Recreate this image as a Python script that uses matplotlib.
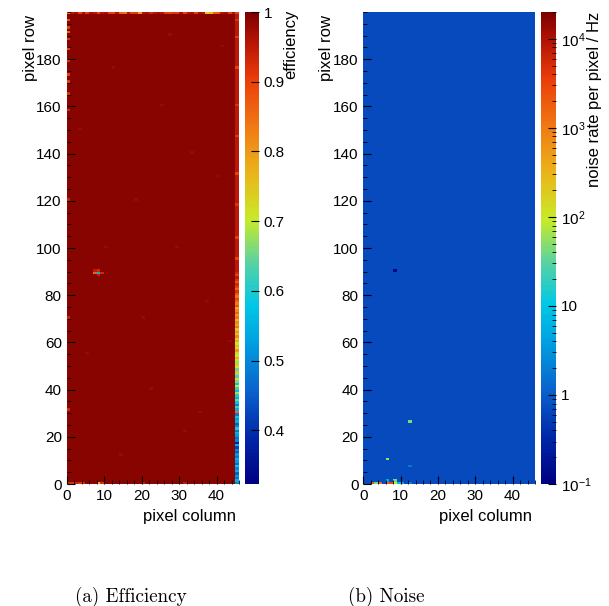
import matplotlib
matplotlib.use("Agg")
import matplotlib.pyplot as plt
import numpy as np
from matplotlib.colors import LinearSegmentedColormap, Normalize, LogNorm
from matplotlib.ticker import FixedLocator, FuncFormatter, LogLocator, MultipleLocator

plt.rcParams["font.family"] = ["Liberation Sans", "DejaVu Sans"]
plt.rcParams["mathtext.fontset"] = "custom"
plt.rcParams["mathtext.rm"] = "Liberation Sans"
plt.rcParams["mathtext.default"] = "regular"

N_COLS, N_ROWS = 46, 200

# --- efficiency map -----------------------------------------------------------
EFF_BASE = 0.99
EFF_EDGE_UPPER = 0.95          # last column above row 90
# last column, rows 0..89 (low-efficiency stripe)
eff_last_col = [
    0.50, 0.55, 0.48, 0.52, 0.45, 0.55, 0.50, 0.58, 0.47, 0.52,
    0.55, 0.48, 0.52, 0.45, 0.50, 0.42, 0.55, 0.38, 0.50, 0.47,
    0.52, 0.55, 0.48, 0.60, 0.50, 0.45, 0.55, 0.52, 0.58, 0.48,
    0.85, 0.55, 0.62, 0.50, 0.58, 0.65, 0.55, 0.60, 0.68, 0.57,
    0.62, 0.70, 0.58, 0.66, 0.72, 0.63, 0.68, 0.75, 0.65, 0.70,
    0.74, 0.68, 0.72, 0.78, 0.70, 0.73, 0.80, 0.72, 0.76, 0.70,
    0.78, 0.74, 0.82, 0.76, 0.80, 0.75, 0.84, 0.79, 0.82, 0.77,
    0.84, 0.80, 0.86, 0.82, 0.78, 0.88, 0.83, 0.86, 0.90, 0.84,
    0.88, 0.92, 0.86, 0.90, 0.93, 0.88, 0.92, 0.95, 0.90, 0.93,
]
eff_last_col_upper = {95: 0.90, 104: 0.91, 118: 0.92, 131: 0.90, 147: 0.91,
                      160: 0.92, 176: 0.90, 189: 0.91, 196: 0.92}
# top row (row 199), columns 0..45
eff_top_row = [
    0.85, 0.95, 0.97, 0.90, 0.97, 0.91, 0.97, 0.96, 0.90, 0.96,
    0.97, 0.91, 0.90, 0.96, 0.86, 0.85, 0.96, 0.90, 0.91, 0.80,
    0.96, 0.97, 0.93, 0.96, 0.97, 0.96, 0.91, 0.90, 0.92, 0.91,
    0.97, 0.90, 0.96, 0.97, 0.91, 0.97, 0.96, 0.74, 0.76, 0.86,
    0.87, 0.96, 0.97, 0.91, 0.96, 0.90,
]
eff_first_col = {196: 0.88, 193: 0.90, 191: 0.86, 188: 0.92, 184: 0.90,
                 179: 0.92, 173: 0.90, 170: 0.91, 165: 0.92, 158: 0.93,
                 120: 0.94, 70: 0.94, 31: 0.93}
eff_bottom_row = {0: 0.93, 1: 0.92, 2: 0.94, 3: 0.92, 4: 0.93, 8: 0.78,
                  9: 0.92, 20: 0.95, 31: 0.95}
eff_spots = {(7, 89): 0.86, (8, 89): 0.55, (8, 90): 0.93, (8, 88): 0.94,
             (9, 89): 0.93, (7, 90): 0.95}
eff_texture = [(3, 150), (12, 176), (25, 160), (33, 140), (41, 185), (18, 120),
               (29, 100), (37, 77), (5, 55), (22, 40), (31, 22), (14, 12),
               (40, 130), (10, 100), (27, 190), (43, 60), (20, 70), (35, 30)]
EFF_TEXTURE_VALUE = 0.978

# --- noise map ----------------------------------------------------------------
NOISE_BASE = 0.7
noise_spots = {(12, 26): 45, (6, 10): 60, (12, 7): 1.7, (8, 90): 0.12,
               (2, 0): 2500, (3, 0): 40, (4, 0): 1500, (6, 0): 2000,
               (7, 0): 3000, (8, 0): 80, (9, 0): 8, (10, 0): 5, (12, 0): 2,
               (6, 1): 5, (8, 1): 40}

eff = np.full((N_ROWS, N_COLS), EFF_BASE)
for c, r in eff_texture:
    eff[r, c] = EFF_TEXTURE_VALUE
eff[199, :] = eff_top_row
eff[:90, N_COLS - 1] = eff_last_col
eff[90:199, N_COLS - 1] = EFF_EDGE_UPPER
for r, v in eff_last_col_upper.items():
    eff[r, N_COLS - 1] = v
for r, v in eff_first_col.items():
    eff[r, 0] = v
for c, v in eff_bottom_row.items():
    eff[0, c] = v
for (c, r), v in eff_spots.items():
    eff[r, c] = v

noise = np.full((N_ROWS, N_COLS), NOISE_BASE)
for (c, r), v in noise_spots.items():
    noise[r, c] = v

# rainbow palette
anchors = [(0.0, (0, 0, 130)), (0.1, (0, 40, 170)), (0.2, (10, 100, 205)),
           (0.3, (0, 160, 225)), (0.38, (0, 200, 230)), (0.47, (90, 210, 160)),
           (0.56, (200, 235, 40)), (0.66, (235, 180, 25)), (0.76, (240, 120, 20)),
           (0.86, (235, 60, 10)), (0.94, (180, 20, 5)), (1.0, (125, 0, 0))]
cmap = LinearSegmentedColormap.from_list(
    "rain", [(p, tuple(v / 255 for v in c)) for p, c in anchors])

W, H = 609, 606
fig = plt.figure(figsize=(W / 100, H / 100), dpi=100)


def box(x0, x1, y0, y1):
    return [x0 / W, 1 - y1 / H, (x1 - x0) / W, (y1 - y0) / H]


def style_map(ax):
    ax.set_xlim(0, N_COLS)
    ax.set_ylim(0, N_ROWS)
    for s in ax.spines.values():
        s.set_visible(False)
    ax.xaxis.set_major_locator(MultipleLocator(10))
    ax.xaxis.set_minor_locator(MultipleLocator(2))
    ax.yaxis.set_minor_locator(MultipleLocator(5))
    ax.set_yticks([0, 20, 40, 60, 80, 100, 120, 140, 160, 180])
    ax.tick_params(which="both", direction="in", labelsize=11, top=False, right=False)
    ax.tick_params(which="major", length=6, width=0.8)
    ax.tick_params(which="minor", length=3, width=0.6)


xe = np.arange(N_COLS + 1)
ye = np.arange(N_ROWS + 1)

# (a) efficiency
ax1 = fig.add_axes(box(66.7, 239, 12, 484))
m1 = ax1.pcolormesh(xe, ye, eff, cmap=cmap, norm=Normalize(0.323, 1.0))
style_map(ax1)
cax1 = fig.add_axes(box(245, 259, 12, 484))
cb1 = fig.colorbar(m1, cax=cax1)
cb1.outline.set_visible(False)
cb1.set_ticks([0.4, 0.5, 0.6, 0.7, 0.8, 0.9, 1.0])
cb1.ax.yaxis.set_major_formatter(FuncFormatter(lambda v, p: f"{v:g}"))
cb1.ax.tick_params(direction="in", length=6, width=0.8, labelsize=11)
fig.text(30 / W, 1 - 15 / H, "pixel row", rotation=90, ha="center", va="top", fontsize=12)
fig.text(236 / W, 1 - 516 / H, "pixel column", ha="right", va="center", fontsize=12)
fig.text(291 / W, 1 - 10 / H, "efficiency", rotation=90, ha="center", va="top", fontsize=12)

# (b) noise
ax2 = fig.add_axes(box(363.3, 535, 12, 484))
m2 = ax2.pcolormesh(xe, ye, noise, cmap=cmap, norm=LogNorm(0.1, 2e4))
style_map(ax2)
cax2 = fig.add_axes(box(541, 556, 12, 484))
cb2 = fig.colorbar(m2, cax=cax2)
cb2.outline.set_visible(False)
labels = {0.1: "$10^{-1}$", 1: "1", 10: "10", 100: "$10^{2}$", 1000: "$10^{3}$", 10000: "$10^{4}$"}
cb2.ax.yaxis.set_major_locator(FixedLocator(list(labels)))
cb2.ax.yaxis.set_major_formatter(FuncFormatter(lambda v, p: labels.get(round(v, 1) if v < 1 else round(v), "")))
cb2.ax.yaxis.set_minor_locator(LogLocator(base=10, subs=np.arange(2, 10)))
cb2.ax.yaxis.set_minor_formatter(FuncFormatter(lambda v, p: ""))
cb2.ax.tick_params(which="major", direction="in", length=6, width=0.8, labelsize=11)
cb2.ax.tick_params(which="minor", direction="in", length=3, width=0.6)
fig.text(327 / W, 1 - 15 / H, "pixel row", rotation=90, ha="center", va="top", fontsize=12)
fig.text(532 / W, 1 - 516 / H, "pixel column", ha="right", va="center", fontsize=12)
fig.text(594 / W, 1 - 12 / H, "noise rate per pixel / Hz", rotation=90, ha="center", va="top", fontsize=12)

# captions
fig.text(131 / W, 1 - 597 / H, "(a) Efficiency", ha="center", va="center", fontsize=13.7, family="cmr10")
fig.text(386 / W, 1 - 597 / H, "(b) Noise", ha="center", va="center", fontsize=13.7, family="cmr10")

fig.savefig("out.png", dpi=100)
